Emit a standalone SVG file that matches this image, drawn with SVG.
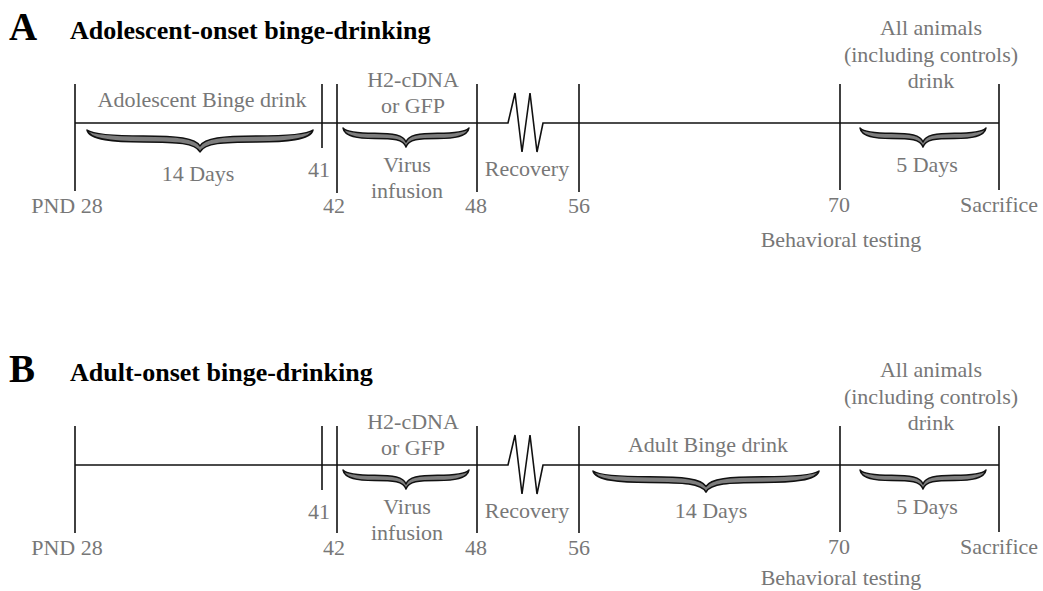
<svg xmlns="http://www.w3.org/2000/svg" xmlns:xlink="http://www.w3.org/1999/xlink" width="1043" height="591" viewBox="0 0 1043 591">
<style>
.lbl{font-family:"Liberation Serif","Times New Roman",serif;font-size:22px;fill:#777;text-anchor:middle}
.ttl{font-family:"Liberation Serif","Times New Roman",serif;font-size:26px;font-weight:bold;fill:#000}
.let{font-family:"Liberation Serif","Times New Roman",serif;font-size:39px;font-weight:bold;fill:#000}
.ln{stroke:#111;stroke-width:1.6;fill:none}
.br{fill:#7d7d7d;stroke:#111;stroke-width:1.5;stroke-linejoin:round}
</style>
<defs>
<path id="brace" vector-effect="non-scaling-stroke" d="M0,0 C1,10 12,12 25,12 C40,12 48,13 50,22 C52,13 60,12 75,12 C88,12 99,10 100,0 C97,5 88,6 75,6 C60,6 52,8 50,16 C48,8 40,6 25,6 C12,6 3,5 0,0 Z"/>
</defs>
<rect width="1043" height="591" fill="#fff"/>

<g id="panelA">
  <text class="let" x="9" y="40">A</text>
  <text class="ttl" x="70" y="39">Adolescent-onset binge-drinking</text>
  <g id="connectorsA">
    <polyline class="ln" points="75,123 508,123 515,93 522,152 530,93 537,152 543,123 999,123"/>
    <line class="ln" x1="75" y1="84" x2="75" y2="191"/>
    <line class="ln" x1="322" y1="84" x2="322" y2="148"/>
    <line class="ln" x1="337" y1="84" x2="337" y2="193"/>
    <line class="ln" x1="477" y1="84" x2="477" y2="192"/>
    <line class="ln" x1="579" y1="84" x2="579" y2="192"/>
    <line class="ln" x1="840" y1="84" x2="840" y2="190"/>
    <line class="ln" x1="999" y1="84" x2="999" y2="190"/>
  </g>
  <g id="A-binge">
    <text class="lbl" x="202" y="107">Adolescent Binge drink</text>
    <use xlink:href="#brace" class="br" transform="translate(87,130) scale(2.26,1)"/>
    <text class="lbl" x="198" y="181">14 Days</text>
  </g>
  <g id="A-virus">
    <text class="lbl" x="413" y="87">H2-cDNA</text>
    <text class="lbl" x="413" y="113">or GFP</text>
    <use xlink:href="#brace" class="br" transform="translate(343,128) scale(1.26,0.87)"/>
    <text class="lbl" x="407" y="172">Virus</text>
    <text class="lbl" x="407" y="198">infusion</text>
  </g>
  <g id="A-recovery">
    <text class="lbl" x="527" y="176">Recovery</text>
  </g>
  <g id="A-drink">
    <text class="lbl" x="931" y="35">All animals</text>
    <text class="lbl" x="931" y="62">(including controls)</text>
    <text class="lbl" x="931" y="88">drink</text>
    <use xlink:href="#brace" class="br" transform="translate(860,128) scale(1.26,0.87)"/>
    <text class="lbl" x="927" y="172">5 Days</text>
  </g>
  <g id="A-days">
    <text class="lbl" x="67" y="213">PND 28</text>
    <text class="lbl" x="319" y="177">41</text>
    <text class="lbl" x="334" y="213">42</text>
    <text class="lbl" x="476" y="213">48</text>
    <text class="lbl" x="579" y="213">56</text>
    <text class="lbl" x="839" y="212">70</text>
    <text class="lbl" x="999" y="212">Sacrifice</text>
    <text class="lbl" x="841" y="247">Behavioral testing</text>
  </g>
</g>

<g id="panelB">
  <text class="let" x="9" y="382">B</text>
  <text class="ttl" x="70" y="381">Adult-onset binge-drinking</text>
  <g id="connectorsB">
    <polyline class="ln" points="75,465 508,465 515,435 522,494 530,435 537,494 543,465 999,465"/>
    <line class="ln" x1="75" y1="426" x2="75" y2="533"/>
    <line class="ln" x1="322" y1="426" x2="322" y2="490"/>
    <line class="ln" x1="337" y1="426" x2="337" y2="533"/>
    <line class="ln" x1="477" y1="426" x2="477" y2="533"/>
    <line class="ln" x1="579" y1="426" x2="579" y2="533"/>
    <line class="ln" x1="840" y1="426" x2="840" y2="532"/>
    <line class="ln" x1="999" y1="426" x2="999" y2="532"/>
  </g>
  <g id="B-virus">
    <text class="lbl" x="413" y="429">H2-cDNA</text>
    <text class="lbl" x="413" y="455">or GFP</text>
    <use xlink:href="#brace" class="br" transform="translate(343,470) scale(1.26,0.87)"/>
    <text class="lbl" x="407" y="514">Virus</text>
    <text class="lbl" x="407" y="540">infusion</text>
  </g>
  <g id="B-recovery">
    <text class="lbl" x="527" y="518">Recovery</text>
  </g>
  <g id="B-binge">
    <text class="lbl" x="708" y="452">Adult Binge drink</text>
    <use xlink:href="#brace" class="br" transform="translate(593,471) scale(2.26,0.96)"/>
    <text class="lbl" x="711" y="518">14 Days</text>
  </g>
  <g id="B-drink">
    <text class="lbl" x="931" y="377">All animals</text>
    <text class="lbl" x="931" y="404">(including controls)</text>
    <text class="lbl" x="931" y="430">drink</text>
    <use xlink:href="#brace" class="br" transform="translate(860,470) scale(1.26,0.87)"/>
    <text class="lbl" x="927" y="514">5 Days</text>
  </g>
  <g id="B-days">
    <text class="lbl" x="67" y="555">PND 28</text>
    <text class="lbl" x="319" y="519">41</text>
    <text class="lbl" x="334" y="555">42</text>
    <text class="lbl" x="476" y="555">48</text>
    <text class="lbl" x="579" y="555">56</text>
    <text class="lbl" x="839" y="554">70</text>
    <text class="lbl" x="999" y="554">Sacrifice</text>
    <text class="lbl" x="841" y="585">Behavioral testing</text>
  </g>
</g>
</svg>
